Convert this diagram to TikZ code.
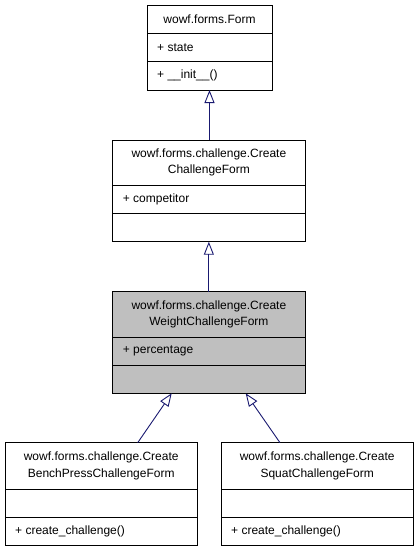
\documentclass[tikz,border=0pt]{standalone}
\usepackage{fontspec}
\setmainfont{Liberation Sans}
\usetikzlibrary{arrows.meta}
\definecolor{edgeblue}{HTML}{191970}
\definecolor{cellgray}{HTML}{BFBFBF}
\begin{document}
\begin{tikzpicture}[x=1pt,y=-1pt,
  cls/.style={draw=black, line width=1pt, inner sep=0pt, outer sep=0pt, anchor=north west},
  sep/.style={draw=black, line width=1pt},
  ttl/.style={inner sep=0pt, align=center, font=\fontsize{12}{16.5}\selectfont},
  row/.style={inner sep=0pt, anchor=west, font=\fontsize{12}{16.5}\selectfont},
  inh/.style={draw=edgeblue, line width=0.9pt, -{Triangle[open, length=13pt, width=10pt, line width=0.9pt]}}]
\useasboundingbox (0,0) rectangle (419,552);
% Form
\node[cls, minimum width=125pt, minimum height=85pt] (form) at (147,5) {};
\draw[sep] (147,33.3) -- (272,33.3);
\draw[sep] (147,61.7) -- (272,61.7);
\node[ttl] (formt) at (209.5,19.2) {wowf.forms.Form};
\node[row] (forma) at (157,47.5) {+ state};
\node[row] (formm) at (157,75.8) {+ \_\_init\_\_()};
% CreateChallengeForm
\node[cls, minimum width=192.3pt, minimum height=101.7pt] (ccf) at (112.7,140) {};
\draw[sep] (112.7,185) -- (305,185);
\draw[sep] (112.7,213.3) -- (305,213.3);
\node[ttl] (ccft) at (208.9,162.5) {wowf.forms.challenge.Create\\ChallengeForm};
\node[row] (ccfa) at (122.7,199.2) {+ competitor};
% CreateWeightChallengeForm
\node[cls, fill=cellgray, minimum width=192.3pt, minimum height=101.6pt] (wcf) at (112.7,291.7) {};
\draw[sep] (112.7,337.3) -- (305,337.3);
\draw[sep] (112.7,365) -- (305,365);
\node[ttl] (wcft) at (208.9,314.5) {wowf.forms.challenge.Create\\WeightChallengeForm};
\node[row] (wcfa) at (122.7,351.2) {+ percentage};
% BenchPress
\node[cls, minimum width=192.3pt, minimum height=102.3pt] (bench) at (5,442.7) {};
\draw[sep] (5,489.3) -- (197.3,489.3);
\draw[sep] (5,517.3) -- (197.3,517.3);
\node[ttl] (bencht) at (101.2,466) {wowf.forms.challenge.Create\\BenchPressChallengeForm};
\node[row] (benchm) at (15,531.2) {+ create\_challenge()};
% Squat
\node[cls, minimum width=192.3pt, minimum height=102.3pt] (squat) at (221,442.7) {};
\draw[sep] (221,489.3) -- (413.3,489.3);
\draw[sep] (221,517.3) -- (413.3,517.3);
\node[ttl] (squatt) at (317.2,466) {wowf.forms.challenge.Create\\SquatChallengeForm};
\node[row] (squatm) at (231,531.2) {+ create\_challenge()};
% connectors
\coordinate (wcfl) at (171.7,393.3);
\coordinate (wcfr) at (245.7,393.3);
\coordinate (benchn) at (137.7,442.7);
\coordinate (squatn) at (280,442.7);
\draw[inh] (ccf.north -| form.south) -- (form.south);
\draw[inh] (wcf.north -| ccf.south) -- (ccf.south);
\draw[inh] (benchn) -- (wcfl);
\draw[inh] (squatn) -- (wcfr);
\end{tikzpicture}
\end{document}
